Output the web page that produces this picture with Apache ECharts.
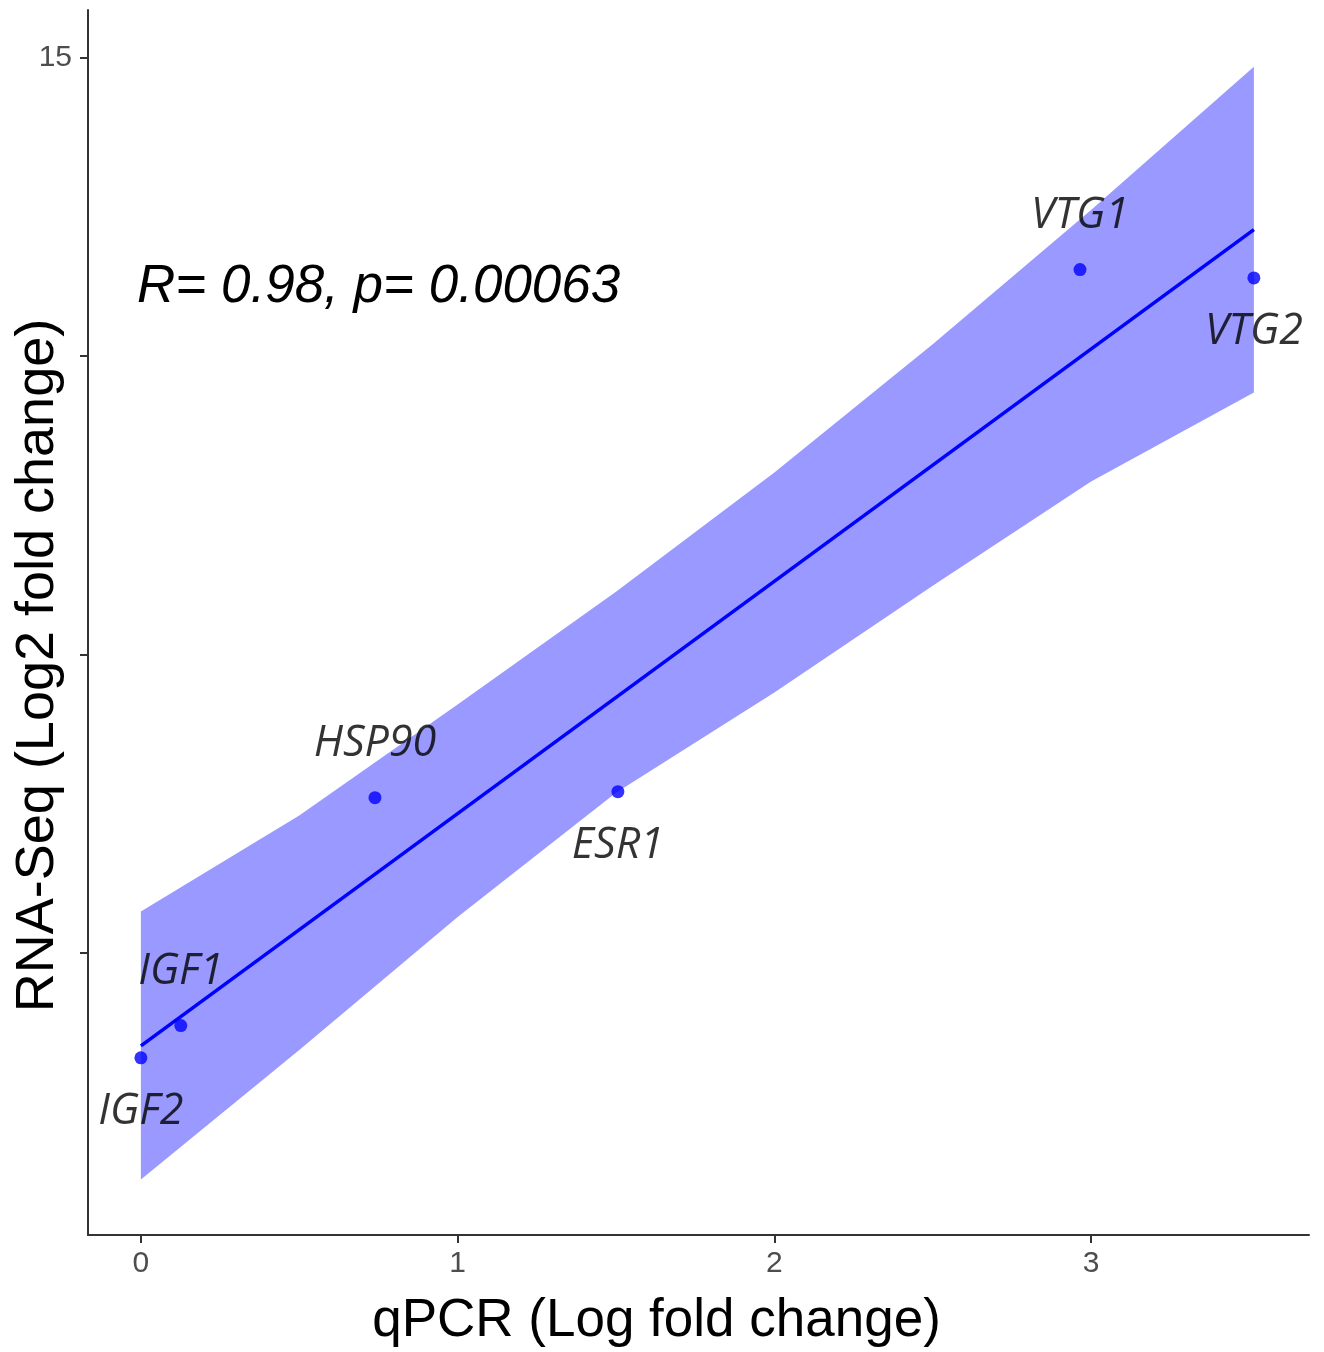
<!DOCTYPE html>
<html><head><meta charset="utf-8">
<script src="https://cdn.jsdelivr.net/npm/echarts@6/dist/echarts.min.js"></script>
<style>html,body{margin:0;padding:0;background:#fff}#chart{width:1324px;height:1352px}</style>
</head><body><div id="chart"></div>
<script>
// ---- data ----
const genes = ['IGF2', 'IGF1', 'HSP90', 'ESR1', 'VTG1', 'VTG2'];
const qpcr = [0, 0.126, 0.739, 1.506, 2.965, 3.514];
const rnaseq = [-1.76, -1.22, 2.60, 2.70, 11.45, 11.31];
const bandX = [0, 0.5, 1, 1.5, 2, 2.5, 3, 3.514];
const bandUpper = [0.69, 2.30, 4.16, 6.05, 8.05, 10.2, 12.45, 14.85];
const bandLower = [-3.80, -1.63, 0.60, 2.68, 4.36, 6.15, 7.9, 9.39];
const fitX = [0, 3.514];
const fitY = [-1.56, 12.12];
const xTicks = [0, 1, 2, 3];
const yTicks = [0, 5, 10, 15];
const yTickLabels = [15];
const statText = 'R= 0.98, p= 0.00063';

// ---- presentation ----
const labelAbove = new Set(['VTG1', 'HSP90', 'IGF1']);
const chart = echarts.init(document.getElementById('chart'), null, {renderer: 'canvas'});
const axisColor = '#333333';
const option = {
  animation: false,
  backgroundColor: '#ffffff',
  grid: {left: 88, right: 15, top: 10, bottom: 117, containLabel: false, outerBoundsMode: 'none'},
  xAxis: {
    type: 'value', min: -0.167, max: 3.688,
    splitLine: {show: false},
    axisLine: {show: true, onZero: false, lineStyle: {color: axisColor, width: 2}},
    axisTick: {show: true, customValues: xTicks, length: 8, lineStyle: {color: axisColor, width: 2}},
    axisLabel: {customValues: xTicks, fontSize: 30, color: '#4d4d4d', fontFamily: 'Liberation Sans', margin: 14},
    name: 'qPCR (Log fold change)', nameLocation: 'middle', nameGap: 60, nameMoveOverlap: false,
    nameTextStyle: {fontSize: 53, color: '#000', fontFamily: 'Liberation Sans', padding: [0, 84, 0, 0]}
  },
  yAxis: {
    type: 'value', min: -4.73, max: 15.8,
    splitLine: {show: false},
    axisLine: {show: true, onZero: false, lineStyle: {color: axisColor, width: 2}},
    axisTick: {show: true, customValues: yTicks, length: 8, lineStyle: {color: axisColor, width: 2}},
    axisLabel: {customValues: yTickLabels, fontSize: 30, color: '#4d4d4d', fontFamily: 'Liberation Sans', margin: 16},
    name: 'RNA-Seq (Log2 fold change)', nameLocation: 'middle', nameGap: 23, nameMoveOverlap: false,
    nameTextStyle: {fontSize: 54, color: '#000', fontFamily: 'Liberation Sans', padding: [0, 86, 0, 0]}
  },
  graphic: [{
    type: 'text', x: 137, y: 287, z: 10,
    style: {text: statText, font: 'italic 53px "Liberation Sans"', fill: '#000', verticalAlign: 'middle', align: 'left'}
  }],
  series: [
    {
      type: 'custom', silent: true, z: 1,
      data: bandX.map((x, i) => [x, bandLower[i], bandUpper[i]]),
      encode: {x: 0, y: [1, 2]},
      renderItem: (params, api) => {
        if (params.dataIndex !== 0) return null;
        const pts = [];
        for (let i = 0; i < bandX.length; i++) pts.push(api.coord([bandX[i], bandUpper[i]]));
        for (let i = bandX.length - 1; i >= 0; i--) pts.push(api.coord([bandX[i], bandLower[i]]));
        return {type: 'polygon', shape: {points: pts}, style: {fill: '#9999ff'}};
      }
    },
    {
      type: 'line', z: 2, silent: true, showSymbol: false,
      data: fitX.map((x, i) => [x, fitY[i]]),
      lineStyle: {color: '#0000ff', width: 3.5}
    },
    {
      type: 'scatter', z: 3, symbolSize: 13,
      itemStyle: {color: '#0000ff'},
      data: qpcr.map((x, i) => ({
        value: [x, rnaseq[i]], name: genes[i],
        label: {offset: [0, labelAbove.has(genes[i]) ? -54 : 54]}
      })),
      label: {
        show: true, position: 'inside', formatter: p => p.name,
        fontStyle: 'italic', fontFamily: 'Open Sans', fontSize: 43, color: '#000'
      }
    }
  ]
};
chart.setOption(option);
</script>
</body></html>
